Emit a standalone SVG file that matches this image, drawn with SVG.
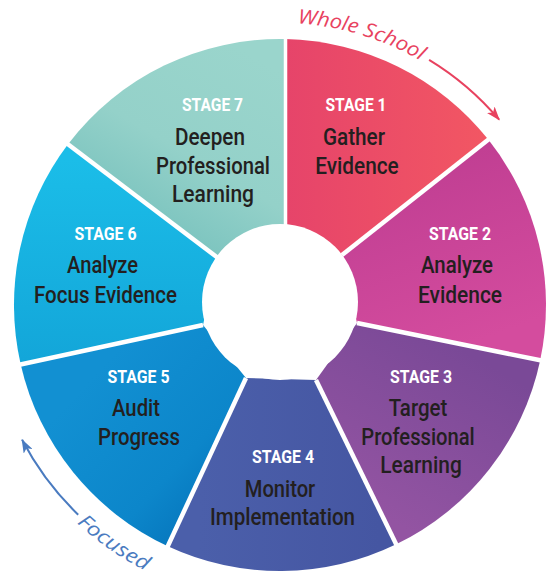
<svg xmlns="http://www.w3.org/2000/svg" width="551" height="575" viewBox="0 0 551 575">
<style>
.lbl{font-family:Roboto,"Liberation Sans",sans-serif;font-weight:700;font-size:19px;fill:#ffffff;text-anchor:middle}
.ttl{font-family:Roboto,"Liberation Sans",sans-serif;font-weight:500;font-size:23px;fill:#231f20;text-anchor:middle}
.div{stroke:#ffffff;stroke-width:4.5;stroke-linecap:butt}
.arc{font-family:"Open Sans","DejaVu Sans",sans-serif;font-style:italic;font-size:20px}
</style>
<defs>
<linearGradient id="g1" gradientUnits="userSpaceOnUse" x1="285" y1="150" x2="490" y2="150"><stop offset="0" stop-color="#e6446a"/><stop offset="1" stop-color="#f25763"/></linearGradient>
<linearGradient id="g2" gradientUnits="userSpaceOnUse" x1="420" y1="170" x2="480" y2="340"><stop offset="0" stop-color="#c13f93"/><stop offset="1" stop-color="#d44c9e"/></linearGradient>
<linearGradient id="g3" gradientUnits="userSpaceOnUse" x1="480" y1="360" x2="390" y2="520"><stop offset="0" stop-color="#7a4997"/><stop offset="1" stop-color="#9354a2"/></linearGradient>
<linearGradient id="g4" gradientUnits="userSpaceOnUse" x1="200" y1="450" x2="380" y2="450"><stop offset="0" stop-color="#4b5faa"/><stop offset="1" stop-color="#4556a2"/></linearGradient>
<linearGradient id="g5" gradientUnits="userSpaceOnUse" x1="90" y1="380" x2="240" y2="520"><stop offset="0" stop-color="#1290d2"/><stop offset="0.6" stop-color="#0c86ca"/><stop offset="1" stop-color="#0470b8"/></linearGradient>
<linearGradient id="g6" gradientUnits="userSpaceOnUse" x1="120" y1="160" x2="120" y2="360"><stop offset="0" stop-color="#1bbde8"/><stop offset="1" stop-color="#13a6d9"/></linearGradient>
<linearGradient id="g7" gradientUnits="userSpaceOnUse" x1="260" y1="60" x2="160" y2="230"><stop offset="0" stop-color="#9ad5cc"/><stop offset="0.6" stop-color="#94d1c9"/><stop offset="1" stop-color="#7cc4bf"/></linearGradient>
<marker id="ahR" markerUnits="userSpaceOnUse" viewBox="0 0 14 10" refX="13" refY="5" markerWidth="14" markerHeight="10" orient="auto"><path d="M0,0 L14,5 L0,10 L3.5,5 Z" fill="#e8425f"/></marker>
<marker id="ahB" markerUnits="userSpaceOnUse" viewBox="0 0 14 10" refX="13" refY="5" markerWidth="14" markerHeight="10" orient="auto"><path d="M0,0 L14,5 L0,10 L3.5,5 Z" fill="#4a7bc0"/></marker>
<path id="pWS" d="M297.5 23.5 A282 282 0 0 1 441.7 74"/>
<path id="pF" d="M76.8 522.9 A298 298 0 0 0 147 571.6"/>
</defs>
<rect width="551" height="575" fill="#ffffff"/>

<g id="stage1">
<path d="M285.5 228 L285.5 39.1 A266 266 0 0 1 488.3 139.6 L342 255 Z" fill="url(#g1)"/>
<text class="lbl" x="356" y="111" textLength="61" lengthAdjust="spacingAndGlyphs">STAGE 1</text>
<text class="ttl" x="354" y="145" textLength="62" lengthAdjust="spacingAndGlyphs">Gather</text>
<text class="ttl" x="357" y="173.5" textLength="83.5" lengthAdjust="spacingAndGlyphs">Evidence</text>
</g>
<g id="stage2">
<path d="M342 255 L488.3 139.6 A266 266 0 0 1 540.2 360.2 L357 323 Z" fill="url(#g2)"/>
<text class="lbl" x="460" y="240" textLength="62" lengthAdjust="spacingAndGlyphs">STAGE 2</text>
<text class="ttl" x="457" y="273" textLength="72" lengthAdjust="spacingAndGlyphs">Analyze</text>
<text class="ttl" x="460" y="302.5" textLength="84" lengthAdjust="spacingAndGlyphs">Evidence</text>
</g>
<g id="stage3">
<path d="M357 323 L540.2 360.2 A266 266 0 0 1 396.2 544.3 L316 380 Z" fill="url(#g3)"/>
<text class="lbl" x="421" y="383" textLength="62" lengthAdjust="spacingAndGlyphs">STAGE 3</text>
<text class="ttl" x="418" y="416" textLength="58.5" lengthAdjust="spacingAndGlyphs">Target</text>
<text class="ttl" x="418" y="445" textLength="113.5" lengthAdjust="spacingAndGlyphs">Professional</text>
<text class="ttl" x="421" y="473" textLength="81.5" lengthAdjust="spacingAndGlyphs">Learning</text>
</g>
<g id="stage4">
<path d="M316 380 L396.2 544.3 A266 266 0 0 1 167.8 546.2 L246 378 Z" fill="url(#g4)"/>
<text class="lbl" x="283" y="463" textLength="62" lengthAdjust="spacingAndGlyphs">STAGE 4</text>
<text class="ttl" x="280" y="497" textLength="70.5" lengthAdjust="spacingAndGlyphs">Monitor</text>
<text class="ttl" x="282.5" y="525" textLength="145" lengthAdjust="spacingAndGlyphs">Implementation</text>
</g>
<g id="stage5">
<path d="M246 378 L167.8 546.2 A266 266 0 0 1 20.7 364.4 L203 325 Z" fill="url(#g5)"/>
<text class="lbl" x="138.5" y="383" textLength="62" lengthAdjust="spacingAndGlyphs">STAGE 5</text>
<text class="ttl" x="136" y="416" textLength="48" lengthAdjust="spacingAndGlyphs">Audit</text>
<text class="ttl" x="139" y="445" textLength="82" lengthAdjust="spacingAndGlyphs">Progress</text>
</g>
<g id="stage6">
<path d="M203 325 L20.7 364.4 A266 266 0 0 1 68 144.3 L218 258 Z" fill="url(#g6)"/>
<text class="lbl" x="105.5" y="240" textLength="62" lengthAdjust="spacingAndGlyphs">STAGE 6</text>
<text class="ttl" x="102.5" y="273" textLength="71" lengthAdjust="spacingAndGlyphs">Analyze</text>
<text class="ttl" x="105.5" y="302.5" textLength="143" lengthAdjust="spacingAndGlyphs">Focus Evidence</text>
</g>
<g id="stage7">
<path d="M218 258 L68 144.3 A266 266 0 0 1 285.5 39.1 L285.5 228 Z" fill="url(#g7)"/>
<text class="lbl" x="212.5" y="111" textLength="61" lengthAdjust="spacingAndGlyphs">STAGE 7</text>
<text class="ttl" x="210" y="145" textLength="70" lengthAdjust="spacingAndGlyphs">Deepen</text>
<text class="ttl" x="213" y="173.5" textLength="114" lengthAdjust="spacingAndGlyphs">Professional</text>
<text class="ttl" x="213" y="201.7" textLength="82" lengthAdjust="spacingAndGlyphs">Learning</text>
</g>

<g id="dividers">
<line class="div" x1="285.5" y1="225" x2="285.5" y2="36" style="stroke-width:3.5"/>
<line class="div" x1="342" y1="255" x2="491" y2="137.5"/>
<line class="div" x1="357" y1="323" x2="544" y2="361"/>
<line class="div" x1="316" y1="380" x2="398" y2="548"/>
<line class="div" x1="246" y1="378" x2="166" y2="550"/>
<line class="div" x1="203" y1="325" x2="17" y2="365.2"/>
<line class="div" x1="218" y1="258" x2="65" y2="142"/>
<circle id="hole" cx="280" cy="302" r="78" fill="#ffffff"/>
</g>

<g id="connectors">
<path d="M429.1 59.8 A287 287 0 0 1 499.2 119.7" fill="none" stroke="#e8425f" stroke-width="2" marker-end="url(#ahR)"/>
<path d="M78.2 514.7 A291 291 0 0 1 22.1 439.8" fill="none" stroke="#4a7bc0" stroke-width="2" marker-end="url(#ahB)"/>
<text class="arc" fill="#e8425f"><textPath href="#pWS" textLength="130" lengthAdjust="spacingAndGlyphs">Whole School</textPath></text>
<text class="arc" fill="#4a7bc0"><textPath href="#pF" textLength="84" lengthAdjust="spacingAndGlyphs">Focused</textPath></text>
</g>
</svg>
